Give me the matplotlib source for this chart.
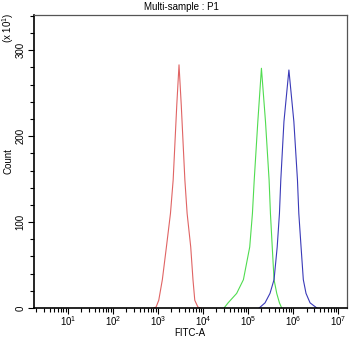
import numpy as np
import matplotlib
matplotlib.use("Agg")
import matplotlib.pyplot as plt
from matplotlib.ticker import LogLocator, MultipleLocator, NullFormatter, FixedFormatter, FixedLocator

plt.rcParams['font.family'] = ['Liberation Sans', 'DejaVu Sans']
plt.rcParams['mathtext.fontset'] = 'custom'
plt.rcParams['mathtext.rm'] = 'Liberation Sans'
plt.rcParams['mathtext.it'] = 'Liberation Sans:italic'

# histogram outlines: log10(FITC-A) vs count (x10)
red_log = [2.90, 2.96, 3.02, 3.10, 3.19, 3.28, 3.34, 3.42, 3.47, 3.52, 3.60, 3.65, 3.73, 3.78, 3.82, 3.89, 3.95]
red_cnt = [0, 1, 9, 33, 71, 110, 149, 236, 283, 236, 149, 110, 71, 33, 9, 1, 0]

green_log = [4.47, 4.56, 4.75, 4.90, 5.04, 5.10, 5.14, 5.22, 5.30, 5.39, 5.47, 5.50, 5.54, 5.58, 5.64, 5.70, 5.75]
green_cnt = [0, 6, 17, 33, 71, 110, 149, 217, 279, 217, 149, 110, 71, 33, 17, 6, 0]

blue_log = [5.25, 5.38, 5.49, 5.58, 5.65, 5.70, 5.73, 5.80, 5.91, 6.02, 6.10, 6.13, 6.18, 6.23, 6.29, 6.38, 6.53]
blue_cnt = [0, 6, 17, 33, 71, 110, 149, 217, 277, 217, 149, 110, 71, 33, 17, 6, 0]

y_ticks = [0, 100, 200, 300]
x_decades = [1, 2, 3, 4, 5, 6, 7]

fig = plt.figure(figsize=(3.5, 3.39), dpi=100)
ax = fig.add_axes([34 / 350, 1 - 308 / 339, 313 / 350, 293 / 339])

ax.plot(10 ** np.array(red_log), red_cnt, color='#e06464', lw=0.8)
ax.plot(10 ** np.array(green_log), green_cnt, color='#50dc50', lw=0.8)
ax.plot(10 ** np.array(blue_log), blue_cnt, color='#3a3ab8', lw=0.8)

ax.set_xscale('log')
ax.set_xlim(10 ** 0.25, 10 ** 7.2)
ax.set_ylim(0, 341)

ax.xaxis.set_major_locator(FixedLocator([10.0 ** d for d in x_decades]))
ax.xaxis.set_major_formatter(FixedFormatter(['$10^{%d}$' % d for d in x_decades]))
ax.xaxis.set_minor_locator(LogLocator(base=10, subs=np.arange(2, 10), numticks=20))
ax.xaxis.set_minor_formatter(NullFormatter())

ax.yaxis.set_major_locator(FixedLocator(y_ticks))
ax.yaxis.set_minor_locator(MultipleLocator(20))

ax.tick_params(axis='both', which='major', length=4, width=0.8, labelsize=7, pad=2)
ax.tick_params(axis='x', which='major', pad=0.5)
ax.tick_params(axis='both', which='minor', length=3, width=0.8)
for lab in ax.get_yticklabels():
    lab.set_rotation(90)
    lab.set_va('center')

for side in ['left', 'bottom']:
    ax.spines[side].set_color('black')
    ax.spines[side].set_linewidth(1.2)
for side in ['top', 'right']:
    ax.spines[side].set_color('#555555')
    ax.spines[side].set_linewidth(0.9)

fig.text(190 / 350, 1 - 333 / 339, 'FITC-A', fontsize=7, ha='center', va='center')
fig.text(8 / 350, 1 - 161 / 339, 'Count', rotation=90, fontsize=7, ha='center', va='center')
fig.text(8 / 350, 1 - 28 / 339, '(x 10$^{1}$)', rotation=90, fontsize=7, ha='center', va='center')
fig.text(181 / 350, 1 - 7 / 339, 'Multi-sample : P1', fontsize=7, ha='center', va='center')

fig.savefig('out.png', dpi=100)
